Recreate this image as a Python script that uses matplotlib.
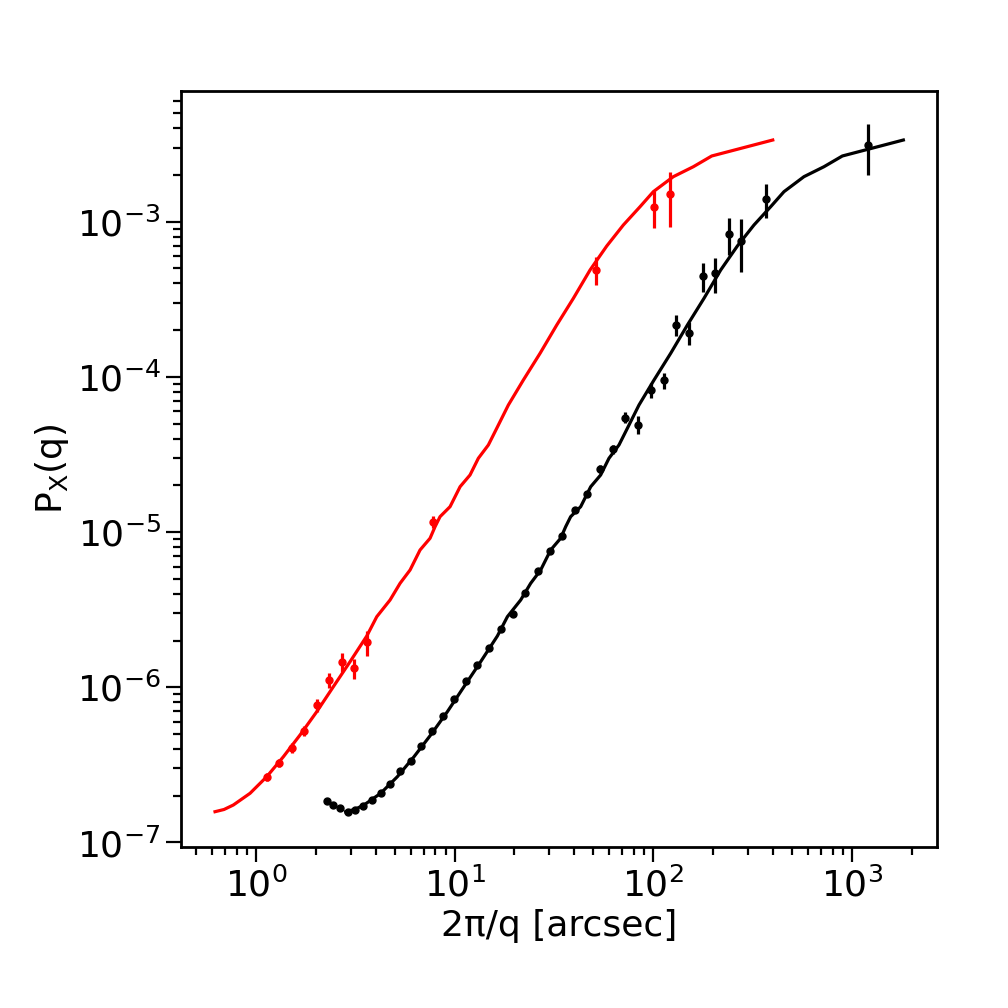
import numpy as np
import matplotlib
matplotlib.use("Agg")
import matplotlib.pyplot as plt

# red data points
red_x = [1.140, 1.310, 1.523, 1.745, 2.021, 2.339, 2.720, 3.115, 3.635, 7.810,
         51.52, 101.3, 121.9]
red_y = [2.655e-7, 3.237e-7, 4.046e-7, 5.253e-7, 7.656e-7, 1.114e-6, 1.462e-6,
         1.326e-6, 1.950e-6, 1.167e-5, 4.885e-4, 1.238e-3, 1.509e-3]
red_err = [1.6e-8, 1.9e-8, 3.0e-8, 3.9e-8, 7.7e-8, 1.3e-7, 2.0e-7, 2.0e-7,
           3.7e-7, 1.05e-6, 1.0e-4, 3.3e-4, 5.8e-4]

# black data points
black_x = [2.286, 2.450, 2.658, 2.896, 3.162, 3.458, 3.838, 4.259, 4.728, 5.310,
           6.053, 6.798, 7.721, 8.773, 9.965, 11.41, 13.01, 14.85, 17.13, 19.75,
           22.70, 26.20, 30.33, 34.86, 40.25, 46.58, 54.16, 62.78, 72.36, 83.85,
           97.48, 113.6, 130.7, 152.0, 177.1, 204.8, 239.4, 277.5, 371.1, 1211]
black_y = [1.843e-7, 1.737e-7, 1.661e-7, 1.565e-7, 1.620e-7, 1.719e-7, 1.879e-7,
           2.075e-7, 2.371e-7, 2.888e-7, 3.350e-7, 4.168e-7, 5.206e-7, 6.533e-7,
           8.408e-7, 1.093e-6, 1.386e-6, 1.792e-6, 2.375e-6, 2.954e-6, 4.052e-6,
           5.590e-6, 7.554e-6, 9.438e-6, 1.388e-5, 1.760e-5, 2.550e-5, 3.417e-5,
           5.458e-5, 4.920e-5, 8.234e-5, 9.480e-5, 2.169e-4, 1.926e-4, 4.469e-4,
           4.651e-4, 8.329e-4, 7.545e-4, 1.400e-3, 3.120e-3]
black_err = [3.7e-9, 3.5e-9, 3.3e-9, 3.1e-9, 3.2e-9, 3.4e-9, 3.8e-9, 4.2e-9,
             4.7e-9, 5.8e-9, 6.7e-9, 8.3e-9, 1.0e-8, 1.3e-8, 1.7e-8, 2.2e-8,
             2.8e-8, 3.6e-8, 4.8e-8, 5.9e-8, 1.6e-7, 2.2e-7, 3.0e-7, 3.8e-7,
             5.6e-7, 7.0e-7, 1.5e-6, 2.4e-6, 4.4e-6, 6.4e-6, 9.1e-6, 1.14e-5,
             3.3e-5, 3.3e-5, 9.4e-5, 1.16e-4, 2.25e-4, 2.8e-4, 3.5e-4, 1.12e-3]

# model curves (same shape, black one sits further right)
red_model_x = [0.6214, 0.6898, 0.7684, 0.9328, 1.132, 1.373, 1.665, 2.021, 2.450,
               2.974, 3.610, 4.053, 4.728, 5.310, 5.963, 6.695, 7.518, 7.966,
               8.441, 9.480, 10.65, 11.95, 13.16, 14.78, 16.29, 18.64, 22.18,
               26.92, 32.67, 39.61, 48.07, 58.33, 70.70, 85.81, 100.1, 126.2,
               159.2, 197.0, 399.7]
model_y = [1.579e-7, 1.632e-7, 1.744e-7, 2.075e-7, 2.655e-7, 3.571e-7, 4.928e-7,
           6.962e-7, 1.009e-6, 1.462e-6, 2.140e-6, 2.850e-6, 3.651e-6, 4.677e-6,
           5.699e-6, 7.668e-6, 9.124e-6, 1.083e-5, 1.257e-5, 1.458e-5, 1.961e-5,
           2.333e-5, 2.989e-5, 3.641e-5, 4.665e-5, 6.590e-5, 9.550e-5, 1.419e-4,
           2.160e-4, 3.209e-4, 4.885e-4, 6.973e-4, 9.522e-4, 1.249e-3, 1.561e-3,
           1.950e-3, 2.261e-3, 2.651e-3, 3.360e-3]
black_model_x = [2.826, 3.137, 3.494, 4.241, 5.147, 6.243, 7.571, 9.189, 11.14,
                 13.52, 16.41, 18.43, 21.50, 24.14, 27.11, 30.44, 34.18, 36.22,
                 38.38, 43.11, 48.43, 54.34, 59.84, 67.20, 74.07, 84.76, 100.9,
                 122.4, 148.6, 180.1, 218.6, 265.2, 321.5, 390.2, 455.2, 573.8,
                 723.9, 895.8, 1817]

fig = plt.figure(figsize=(10.08, 10.08), dpi=100)
ax = fig.add_axes([0.1796, 0.1597, 0.75, 0.75])

ax.plot(red_model_x, model_y, color="red", lw=2.3)
ax.plot(black_model_x, model_y, color="black", lw=2.3)
ax.errorbar(red_x, red_y, yerr=red_err, fmt="o", color="red", ms=5,
            elinewidth=2.3, capsize=0)
ax.errorbar(black_x, black_y, yerr=black_err, fmt="o", color="black", ms=5,
            elinewidth=2.3, capsize=0)

ax.set_xscale("log")
ax.set_yscale("log")
ax.set_xlim(0.419, 2685)
ax.set_ylim(9.35e-8, 6.95e-3)

ax.set_xlabel("2π/q [arcsec]", fontsize=26)
ax.set_ylabel(r"P$_{\rm X}$(q)", fontsize=26)

for s in ax.spines.values():
    s.set_linewidth(2)
ax.tick_params(which="major", length=11, width=1.6, labelsize=26)
ax.tick_params(which="minor", length=6, width=1.6)

fig.savefig("out.png", dpi=100)
